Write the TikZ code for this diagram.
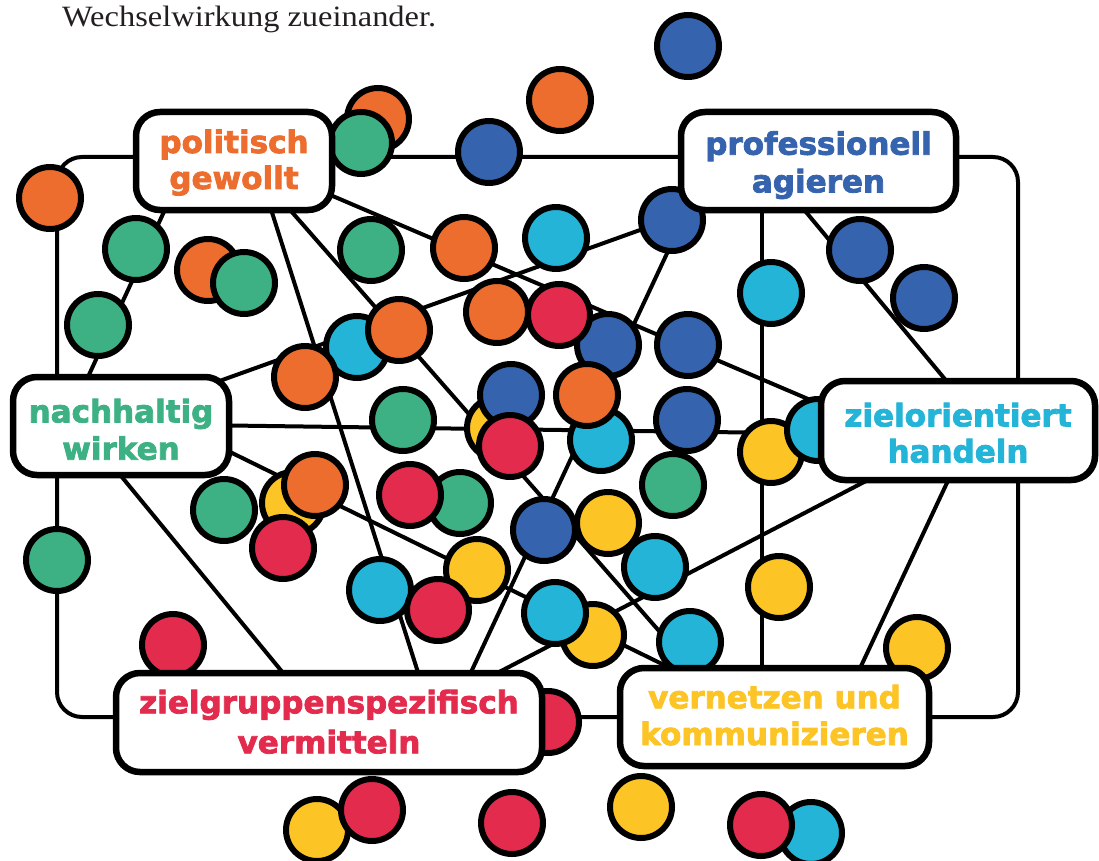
\documentclass[tikz,border=0pt]{standalone}
\usepackage{fontspec}
\usepackage{graphicx}
\newfontfamily\lblfont{DejaVu Sans}[BoldFeatures={FakeBold=2.5}]
\newfontfamily\titlefont{Liberation Serif}
\definecolor{cO}{HTML}{EC6D2D}
\definecolor{cG}{HTML}{3DB184}
\definecolor{cB}{HTML}{3563AD}
\definecolor{cC}{HTML}{24B4D8}
\definecolor{cY}{HTML}{FDC425}
\definecolor{cR}{HTML}{E32B4E}
\definecolor{cT}{HTML}{231F20}
\pgfdeclarelayer{bg}
\pgfdeclarelayer{mid}
\pgfsetlayers{bg,mid,main}
\begin{document}
\begin{tikzpicture}[x=1pt,y=-1pt,
  frameline/.style={line width=4pt, rounded corners=25pt},
  link/.style={line width=4pt},
  lbl/.style={draw, fill=white, line width=6.5pt, rounded corners=24pt, inner sep=0pt,
    align=center, text depth=0pt, font=\lblfont\bfseries\fontsize{31}{36}\selectfont},
  dot/.style={draw, line width=6pt, fill=#1},
]
\useasboundingbox (0,0) rectangle (1099,861);
\node[anchor=base west, inner sep=0pt, text=cT] (title) at (62,27)
  {\scalebox{1.1}[1]{\titlefont\fontsize{29.5}{30}\selectfont Wechselwirkung zueinander.}};

% label boxes
\node[lbl, minimum width=196pt, minimum height=98pt, text=cO, text height=56pt] (p1) at (234,161) {politisch\\gewollt};
\node[lbl, minimum width=275pt, minimum height=98pt, text=cB, text height=62.8pt] (p2) at (818.5,161) {professionell\\[1.7pt]agieren};
\node[lbl, minimum width=216pt, minimum height=98pt, text=cG, text height=67.4pt] (p3) at (121,426) {nachhaltig\\[1.3pt]wirken};
\node[lbl, minimum width=274pt, minimum height=99pt, text=cC, text height=63.8pt] (p4) at (958,430.5) {zielorientiert\\handeln};
\node[lbl, minimum width=426pt, minimum height=99pt, text=cR, text height=61.6pt] (p5) at (329,722.5) {zielgruppenspezifisch\\[4pt]vermitteln};
\node[lbl, minimum width=309pt, minimum height=98pt, text=cY, text height=56pt] (p6) at (774.5,717) {vernetzen und\\[0.7pt]kommunizieren};

\begin{pgfonlayer}{bg}
\draw[frameline] (57,157) rectangle (1018,717);
\draw[link] ([shift={(-66,42)}]p1.center) -- ([shift={(-39,-36)}]p3.center);
\draw[link] ([shift={(35,42)}]p1.center) -- ([shift={(93,-37.5)}]p5.center);
\draw[link] ([shift={(50,42)}]p1.center) -- ([shift={(-72.5,-37)}]p6.center);
\draw[link] ([shift={(86,29.6)}]p1.center) -- ([shift={(-123,-20)}]p4.center);
\draw[link] ([shift={(-98.5,40.3)}]p2.center) -- ([shift={(79,-38)}]p3.center);
\draw[link] ([shift={(-126.5,39)}]p2.center) -- ([shift={(136,-37.5)}]p5.center);
\draw[link] ([shift={(-22.5,39)}]p2.center) -- ([shift={(-2.4,-38.5)}]p4.center);
\draw[link] ([shift={(-56.5,39)}]p2.center) -- ([shift={(-12.5,-37)}]p6.center);
\draw[link] ([shift={(94,-0.7)}]p3.center) -- ([shift={(-123,3.2)}]p4.center);
\draw[link] ([shift={(94,18.6)}]p3.center) -- ([shift={(-74.5,-34.4)}]p6.center);
\draw[link] ([shift={(-9,39)}]p3.center) -- ([shift={(-36,-37.5)}]p5.center);
\draw[link] ([shift={(-68,38)}]p4.center) -- ([shift={(151,-40.5)}]p5.center);
\draw[link] ([shift={(-5,39.5)}]p4.center) -- ([shift={(80,-37)}]p6.center);
\end{pgfonlayer}

\begin{pgfonlayer}{mid}
\foreach \c/\x/\y in {
  cO/50/198, cG/57/560,
  cO/378/119, cG/361/143,
  cO/560/100, cB/688/46, cB/489/152,
  cG/136/249, cO/208/270, cG/244/283, cG/98/325,
  cG/371/250, cO/464/248, cC/556/238, cB/672/220,
  cB/860/250, cB/924/298, cC/771/293,
  cC/357/347, cO/399/330, cO/305/377,
  cO/497/312, cB/608/345, cR/559/315, cC/601/440, cO/587/395,
  cB/688/345,
  cY/498/428, cB/511/395, cR/510/446,
  cG/403/420, cB/687/420,
  cY/771/452, cC/818/430,
  cG/673/485,
  cG/460/503, cR/410/495,
  cY/293/503, cG/224/510, cO/315/485, cR/283/548,
  cB/544/530, cY/608/523, cC/655/567,
  cC/380/590, cY/477/570, cR/438/610,
  cY/593/635, cC/555/613,
  cC/690/642, cY/779/587, cY/917/648,
  cR/173/645, cR/548/722,
  cY/317/830, cR/372/810,
  cR/512/823, cY/641/807,
  cC/811/833, cR/761/825}
  \path[dot=\c] (\x,\y) circle[radius=31];
\end{pgfonlayer}
\end{tikzpicture}
\end{document}
